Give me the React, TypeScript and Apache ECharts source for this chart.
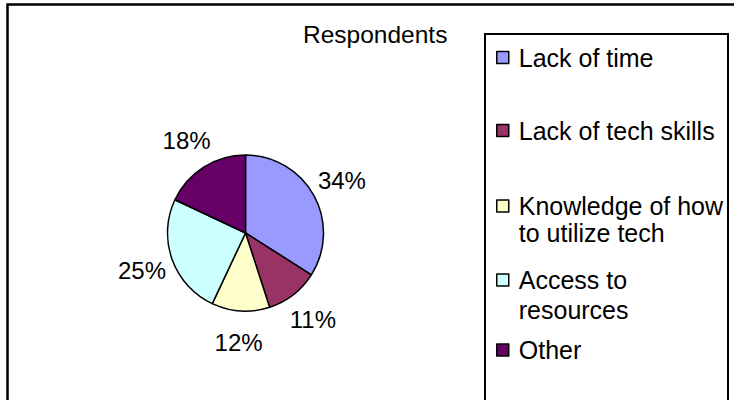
import React, { useEffect, useRef } from "react";
import * as echarts from "echarts";

const categories = [
  "Lack of time",
  "Lack of tech skills",
  "Knowledge of how to utilize tech",
  "Access to resources",
  "Other",
];
const values = [34, 11, 12, 25, 18];
const colors = ["#9999FF", "#993366", "#FFFFCC", "#CCFFFF", "#660066"];
const legendLines = [
  ["Lack of time"],
  ["Lack of tech skills"],
  ["Knowledge of how", "to utilize tech"],
  ["Access to", "resources"],
  ["Other"],
];
const titleText = "Respondents";

const FONT = "'Liberation Sans', Arial, sans-serif";

export default function App() {
  const ref = useRef<HTMLDivElement>(null);
  useEffect(() => {
    if (!ref.current) return;
    const chart = echarts.init(ref.current, undefined, { renderer: "svg" });
    const data = categories.map((name, i) => ({
      name,
      value: values[i],
      itemStyle: { color: colors[i] },
    }));
    const iconCenters = [57.5, 130.5, 206, 280, 350];
    const lineHeights = [28, 28, 27, 30, 28];
    const legends = categories.map((name, i) => {
      const lines = legendLines[i];
      const L = lineHeights[i];
      const multi = lines.length > 1;
      const top = multi ? iconCenters[i] - 1.5 * L : iconCenters[i] - L / 2;
      return {
        data: [name],
        left: 496,
        top,
        padding: 0,
        orient: "vertical",
        selectedMode: false,
        itemWidth: 12,
        itemHeight: 12,
        icon: "rect",
        itemStyle: { borderColor: "#000", borderWidth: 1.5 },
        formatter: () => (multi ? "\n" + lines.join("\n") : lines[0]),
        textStyle: {
          fontFamily: FONT,
          fontSize: 25,
          color: "#000",
          lineHeight: L,
          padding: [0, 0, 0, 5],
        },
      };
    });
    chart.setOption({
      animation: false,
      backgroundColor: "#fff",
      title: {
        text: titleText,
        left: 303,
        top: 22,
        padding: 0,
        textStyle: {
          fontFamily: FONT,
          fontSize: 24.5,
          fontWeight: "normal",
          color: "#000",
          lineHeight: 24,
        },
      },
      legend: legends,
      graphic: [
        {
          type: "rect",
          shape: { x: 7.5, y: 4.5, width: 1000, height: 1000 },
          style: { fill: "none", stroke: "#000", lineWidth: 2.5 },
          silent: true,
        },
        {
          type: "rect",
          shape: { x: 485, y: 34, width: 243, height: 1000 },
          style: { fill: "none", stroke: "#000", lineWidth: 2 },
          silent: true,
        },
      ],
      series: [
        {
          type: "pie",
          center: [245.5, 233],
          radius: 78,
          startAngle: 90,
          clockwise: true,
          data,
          itemStyle: { borderColor: "#000", borderWidth: 1.5 },
          label: { show: false },
          labelLine: { show: false },
          emphasis: { disabled: true },
          silent: true,
        },
        {
          type: "pie",
          center: [245.5, 233],
          radius: [96, 118],
          startAngle: 90,
          clockwise: true,
          data: categories.map((name, i) => ({ name, value: values[i] })),
          itemStyle: { color: "rgba(0,0,0,0)", borderWidth: 0 },
          label: {
            show: true,
            position: "inside",
            formatter: "{c}%",
            fontFamily: FONT,
            fontSize: 24,
            color: "#000",
          },
          labelLine: { show: false },
          emphasis: { disabled: true },
          silent: true,
        },
      ],
    });
    return () => chart.dispose();
  }, []);
  return (
    <div
      ref={ref}
      style={{ position: "absolute", left: 0, top: 0, width: 734, height: 400 }}
    />
  );
}
